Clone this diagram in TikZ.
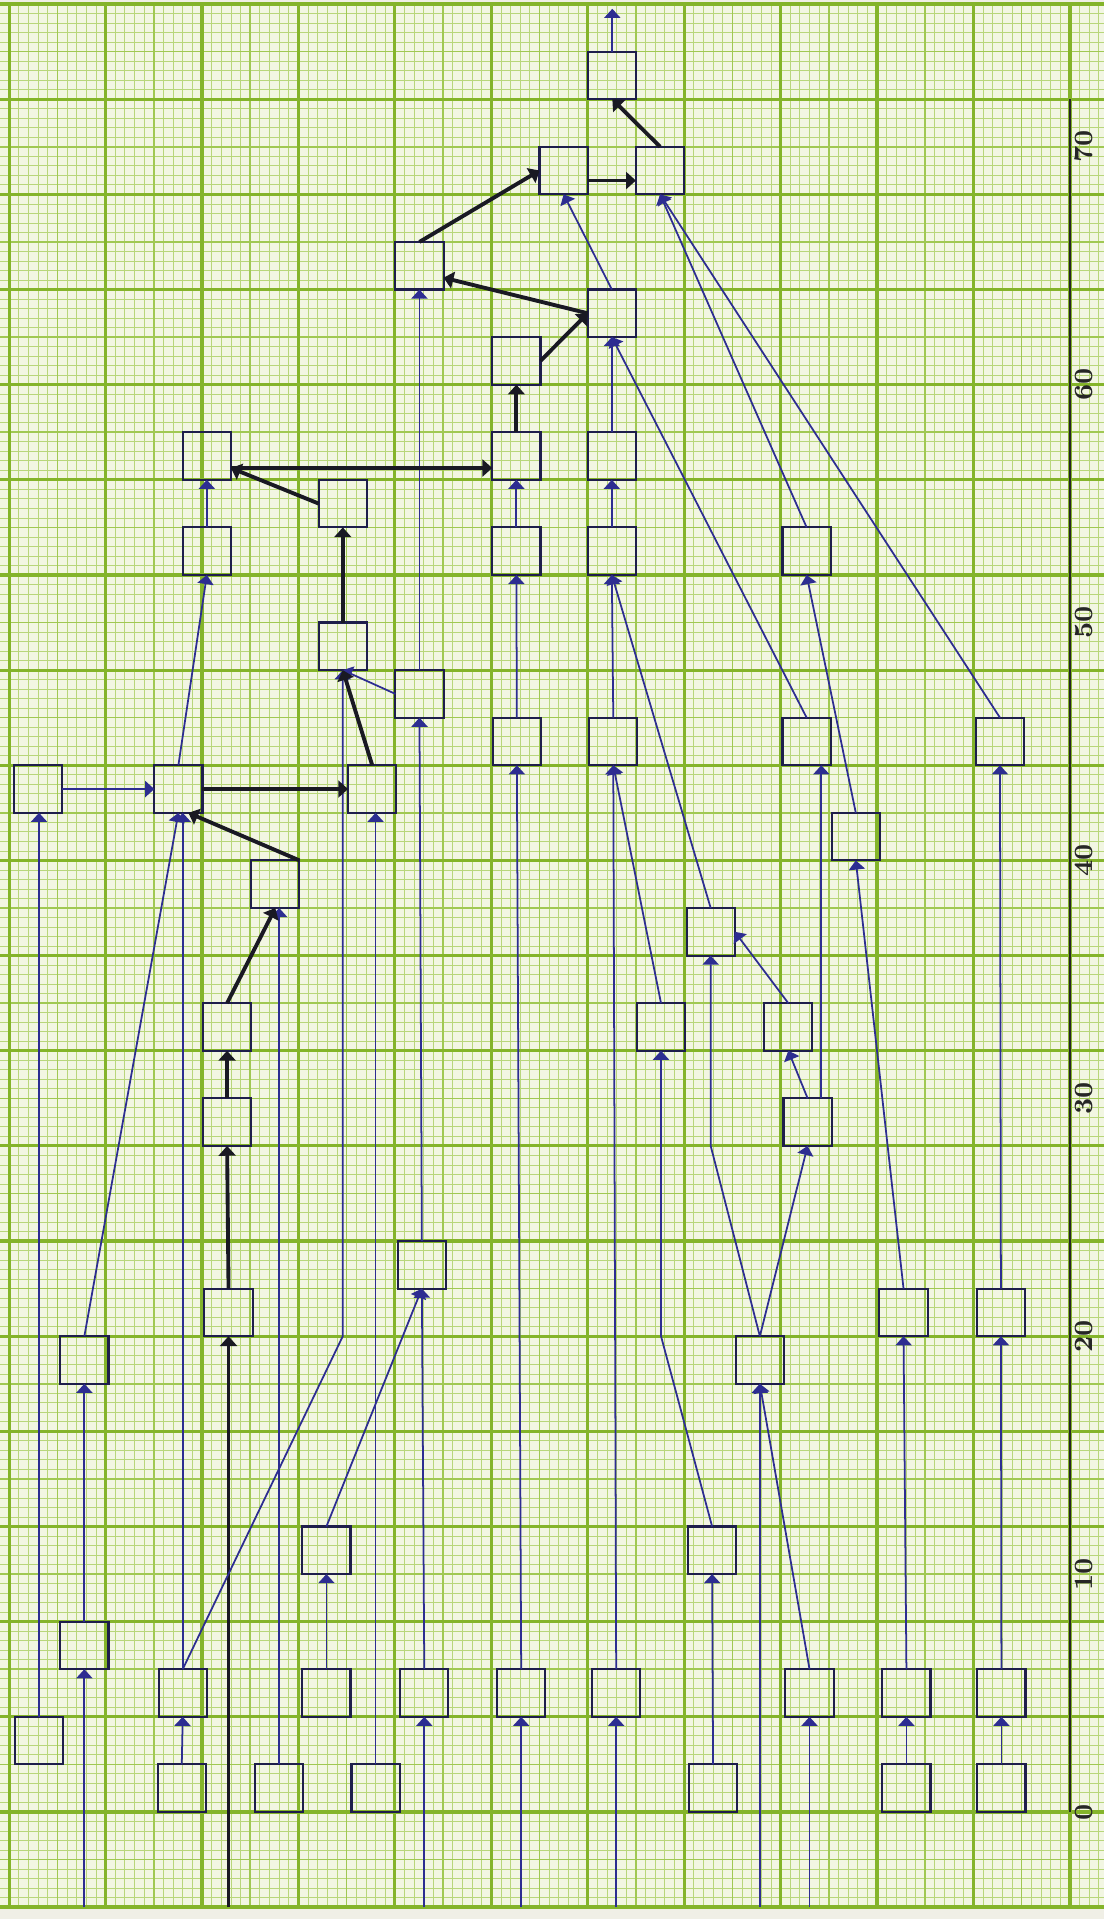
\documentclass[tikz,border=0pt]{standalone}
\usetikzlibrary{arrows.meta}
\definecolor{paperbg}{RGB}{242,246,226}
\definecolor{stripbg}{RGB}{240,239,230}
\definecolor{gridlo}{RGB}{184,214,122}
\definecolor{gridmd}{RGB}{160,200,82}
\definecolor{gridhi}{RGB}{132,180,42}
\definecolor{flowblue}{RGB}{45,45,145}
\definecolor{boxnavy}{RGB}{30,30,75}
\definecolor{critblack}{RGB}{25,25,35}

\begin{document}
\begin{tikzpicture}[
    x=0.09644cm, y=0.2379cm,
    box/.style={draw=boxnavy, line width=0.6pt, minimum width=0.482cm,
                minimum height=0.476cm, inner sep=0pt, outer sep=0pt},
    dep/.style={-{Triangle[width=4.6pt,length=2.6pt]}, draw=flowblue, line width=0.5pt},
    critdep/.style={-{Triangle[width=4.8pt,length=2.8pt]}, draw=critblack, line width=1.1pt},
    scalelabel/.style={rotate=90, inner sep=0pt, text=black!85,
                font=\fontsize{7.5}{8}\selectfont\bfseries}
  ]
    % sheet of graph paper
    \useasboundingbox (-10.95,-4.5) rectangle (103.53,76.17);
    \fill[stripbg] (-10.95,-4.5) rectangle (103.53,76.17);
    \fill[paperbg] (-10.95,-4) rectangle (103.53,76);
    \draw[gridlo, line width=0.25pt] (-10.95,-4) grid[xstep=0.09644cm, ystep=0.09516cm] (103.53,76);
    \draw[gridmd, line width=0.45pt] (-10.95,-4) grid[xstep=0.4822cm, ystep=0.4758cm] (103.53,76);
    \draw[gridhi, line width=0.9pt] (-10.95,-4) grid[xstep=0.9644cm, ystep=0.9516cm] (103.53,76);
    \draw[gridhi, line width=1.3pt] (-10.95,-4) -- (103.53,-4);
    \draw[gridhi, line width=1.3pt] (-10.95,76) -- (103.53,76);

    % time scale
    \draw[black!85, line width=0.7pt] (100,0) -- (100,72);
    \foreach \v in {0,10,...,70}
      \node[scalelabel] (s\v) at (101.45,\v) {\v};

    \node[box] (n50u72) at (52.55,73) {};
    \node[box] (n45u68) at (47.5,69) {};
    \node[box] (n55u68) at (57.5,69) {};
    \node[box] (n30u64) at (32.55,65) {};
    \node[box] (n50u62) at (52.5,63) {};
    \node[box] (n40u60) at (42.6,61) {};
    \node[box] (n8u56) at (10.5,57) {};
    \node[box] (n40u56) at (42.6,57) {};
    \node[box] (n50u56) at (52.5,57) {};
    \node[box] (n22u54) at (24.6,55) {};
    \node[box] (n8u52) at (10.5,53) {};
    \node[box] (n40u52) at (42.6,53) {};
    \node[box] (n50u52) at (52.5,53) {};
    \node[box] (n70u52) at (72.7,53) {};
    \node[box] (n22u48) at (24.6,49) {};
    \node[box] (n30u46) at (32.55,47) {};
    \node[box] (n40u44) at (42.65,45) {};
    \node[box] (n50u44) at (52.65,45) {};
    \node[box] (n70u44) at (72.7,45) {};
    \node[box] (n90u44) at (92.75,45) {};
    \node[box] (w42) at (-7.0,43) {};
    \node[box] (n5u42) at (7.55,43) {};
    \node[box] (n25u42) at (27.65,43) {};
    \node[box] (n75u40) at (77.8,41) {};
    \node[box] (n15u38) at (17.6,39) {};
    \node[box] (n60u36) at (62.75,37) {};
    \node[box] (n10u32) at (12.6,33) {};
    \node[box] (n55u32) at (57.6,33) {};
    \node[box] (n68u32) at (70.8,33) {};
    \node[box] (n10u28) at (12.6,29) {};
    \node[box] (n70u28) at (72.8,29) {};
    \node[box] (n30u22) at (32.8,23) {};
    \node[box] (n10u20) at (12.75,21) {};
    \node[box] (n80u20) at (82.75,21) {};
    \node[box] (n90u20) at (92.85,21) {};
    \node[box] (w18) at (-2.2,19) {};
    \node[box] (n65u18) at (67.85,19) {};
    \node[box] (n20u10) at (22.9,11) {};
    \node[box] (n60u10) at (62.9,11) {};
    \node[box] (w6) at (-2.2,7) {};
    \node[box] (n5u4) at (8.0,5) {};
    \node[box] (n20u4) at (22.9,5) {};
    \node[box] (n30u4) at (33.05,5) {};
    \node[box] (n40u4) at (43.1,5) {};
    \node[box] (n50u4) at (52.95,5) {};
    \node[box] (n70u4) at (73.0,5) {};
    \node[box] (n80u4) at (83.05,5) {};
    \node[box] (n90u4) at (92.9,5) {};
    \node[box] (w2) at (-6.9,3) {};
    \node[box] (n5u0) at (7.9,1) {};
    \node[box] (n15u0) at (18.0,1) {};
    \node[box] (n25u0) at (28.0,1) {};
    \node[box] (n60u0) at (63.0,1) {};
    \node[box] (n80u0) at (83.05,1) {};
    \node[box] (n90u0) at (92.9,1) {};

    \coordinate (edge) at (0,-4);
    \coordinate (exit) at (n50u72.north |- 0,75.8);

    % lines coming in from below the sheet
    \draw[dep] (w6.south |- edge) -- (w6.south);
    \draw[critdep] (n10u20.south |- edge) -- (n10u20.south);
    \draw[dep] (n30u4.south |- edge) -- (n30u4.south);
    \draw[dep] (n40u4.south |- edge) -- (n40u4.south);
    \draw[dep] (n50u4.south |- edge) -- (n50u4.south);
    \draw[dep] (n65u18.south |- edge) -- (n65u18.south);
    \draw[dep] (n70u4.south |- edge) -- (n70u4.south);

    \draw[dep] (w2.north) -- (w2.north |- w42.south);
    \draw[dep] (w6.north) -- (w18.south);
    \draw[dep] (n5u0.north) -- (n5u4.south);
    \draw[dep] (n5u4.north) -- (n5u4.north |- n5u42.south);
    \draw[dep] (n20u4.north) -- (n20u10.south);
    \draw[dep] (n15u0.north) -- (n15u0.north |- n15u38.south);
    \draw[dep] (n25u0.north) -- (n25u0.north |- n25u42.south);
    \draw[dep] (n30u4.north) -- (n30u22.south);
    \draw[dep] (n30u22.north) -- (n30u46.south);
    \draw[dep] (n30u46.north) -- (n30u64.south);
    \draw[dep] (n40u4.north) -- (n40u44.south);
    \draw[dep] (n40u44.north) -- (n40u52.south);
    \draw[dep] (n40u52.north) -- (n40u56.south);
    \draw[dep] (n50u4.north) -- (n50u44.south);
    \draw[dep] (n50u44.north) -- (n50u52.south);
    \draw[dep] (n50u52.north) -- (n50u56.south);
    \draw[dep] (n50u56.north) -- (n50u62.south);
    \draw[dep] (n60u0.north) -- (n60u10.south);
    \draw[dep] (n80u0.north) -- (n80u4.south);
    \draw[dep] (n80u4.north) -- (n80u20.south);
    \draw[dep] (n90u0.north) -- (n90u4.south);
    \draw[dep] (n90u4.north) -- (n90u20.south);
    \draw[dep] (n90u20.north) -- (n90u44.south);
    \draw[dep] (n8u52.north) -- (n8u56.south);
    \draw[dep] (n70u28.60) -- (n70u28.60 |- n70u44.south);

    \draw[dep] (w42.east) -- (n5u42.west);
    \draw[dep] (w18.north) -- (n5u42.south);
    \draw[dep] (n5u4.north) -- (n22u48.south |- 0,20) -- (n22u48.south);
    \draw[dep] (n5u42.north) -- (n8u52.south);
    \draw[dep] (n30u46.west) -- (n22u48.south);
    \draw[dep] (n20u10.north) -- (n30u22.south);
    \draw[dep] (n55u32.north) -- (n50u44.south);
    \draw[dep] (n60u10.north) -- (n55u32.south |- 0,20) -- (n55u32.south);
    \draw[dep] (n60u36.north) -- (n50u52.south);
    \draw[dep] (n65u18.north) -- (n60u36.south |- 0,28) -- (n60u36.south);
    \draw[dep] (n65u18.north) -- (n70u28.south);
    \draw[dep] (n70u4.north) -- (n65u18.south);
    \draw[dep] (n70u28.north) -- (n68u32.south);
    \draw[dep] (n68u32.north) -- (n60u36.east);
    \draw[dep] (n70u44.north) -- (n50u62.south);
    \draw[dep] (n75u40.north) -- (n70u52.south);
    \draw[dep] (n80u20.north) -- (n75u40.south);
    \draw[dep] (n90u44.north) -- (n55u68.south);
    \draw[dep] (n70u52.north) -- (n55u68.south);
    \draw[dep] (n50u62.north) -- (n45u68.south);
    \draw[dep] (n50u72.north) -- (exit);

    % critical path
    \draw[critdep] (n10u20.north) -- (n10u28.south);
    \draw[critdep] (n10u28.north) -- (n10u32.south);
    \draw[critdep] (n10u32.north) -- (n15u38.south);
    \draw[critdep] (n15u38.north east) -- ([xshift=0.1cm]n5u42.south);
    \draw[critdep] (n5u42.east) -- (n25u42.west);
    \draw[critdep] (n25u42.north) -- (n22u48.south);
    \draw[critdep] (n22u48.north) -- (n22u54.south);
    \draw[critdep] (n22u54.west) -- ([yshift=-0.12cm]n8u56.east);
    \draw[critdep] ([yshift=-0.12cm]n8u56.east) -- ([yshift=-0.12cm]n40u56.west);
    \draw[critdep] (n40u56.north) -- (n40u60.south);
    \draw[critdep] (n40u60.east) -- (n50u62.west);
    \draw[critdep] (n50u62.west) -- ([yshift=-0.12cm]n30u64.east);
    \draw[critdep] (n30u64.north) -- (n45u68.west);
    \draw[critdep] ([yshift=-0.1cm]n45u68.east) -- ([yshift=-0.1cm]n55u68.west);
    \draw[critdep] (n55u68.north) -- (n50u72.south);
  \end{tikzpicture}
\end{document}
